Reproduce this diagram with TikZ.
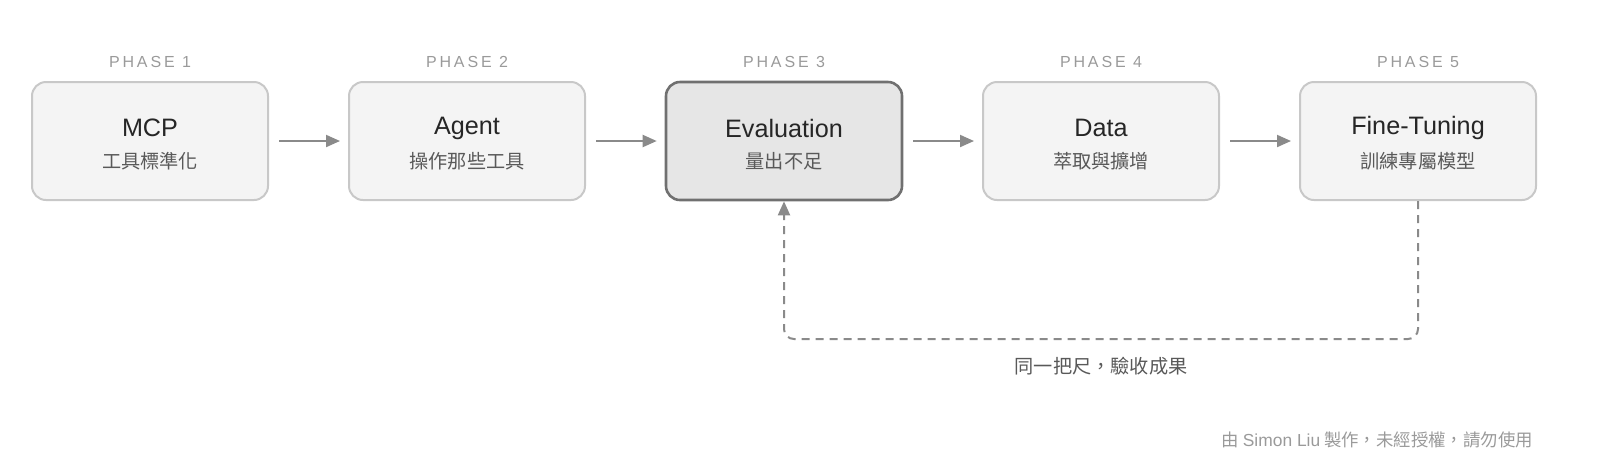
\documentclass[tikz,border=0pt]{standalone}
\usepackage{fontspec}
\setmainfont{Liberation Sans}
\newfontfamily\cjk{Noto Sans CJK TC}
\usetikzlibrary{arrows.meta}
\definecolor{boxfill}{HTML}{F4F4F4}
\definecolor{boxline}{HTML}{C8C8C8}
\definecolor{hotfill}{HTML}{E6E6E6}
\definecolor{hotline}{HTML}{707070}
\definecolor{arrowgray}{HTML}{8A8A8A}
\definecolor{labelgray}{HTML}{9A9A9A}

\begin{document}
\begin{tikzpicture}[x=0.5pt, y=-0.5pt,
    phase/.style ={rectangle, rounded corners=7pt, draw=boxline, fill=boxfill, line width=1pt, minimum width=118pt, minimum height=59pt},
    current/.style ={phase, draw=hotline, fill=hotfill, line width=1.3pt},
    title/.style ={font=\fontsize{12.6}{14}\selectfont, text=black!85},
    sub/.style ={font=\cjk\fontsize{9.6}{11}\selectfont, text=black!65},
    phasetag/.style ={font=\fontsize{8}{9}\selectfont\addfontfeature{LetterSpace=18}, text=labelgray},
    flow/.style ={draw=arrowgray, line width=1pt, -{Triangle[length=7pt, width=6pt]}}]
   \useasboundingbox (0,0) rectangle (1600,473);
   \node[phase] (P1) at (150,141) {};
   \node[phase] (P2) at (467,141) {};
   \node[current] (P3) at (784,141) {};
   \node[phase] (P4) at (1101,141) {};
   \node[phase] (P5) at (1418,141) {};

   \node[phasetag] at (150,62) {PHASE 1};
   \node[phasetag] at (467,62) {PHASE 2};
   \node[phasetag] at (784,62) {PHASE 3};
   \node[phasetag] at (1101,62) {PHASE 4};
   \node[phasetag] at (1418,62) {PHASE 5};

   \node[title] at (150,128) {MCP};
   \node[title] at (467,128) {Agent};
   \node[title] at (784,128) {Evaluation};
   \node[title] at (1101,128) {Data};
   \node[title] at (1418,128) {Fine-Tuning};

   \node[sub] at (150,161) {工具標準化};
   \node[sub] at (467,161) {操作那些工具};
   \node[sub] at (784,161) {量出不足};
   \node[sub] at (1101,161) {萃取與擴增};
   \node[sub] at (1418,161) {訓練專屬模型};

   \draw[flow] ([xshift=5pt]P1.east) to ([xshift=-4pt]P2.west);
   \draw[flow] ([xshift=5pt]P2.east) to ([xshift=-4pt]P3.west);
   \draw[flow] ([xshift=5pt]P3.east) to ([xshift=-4pt]P4.west);
   \draw[flow] ([xshift=5pt]P4.east) to ([xshift=-4pt]P5.west);

   \draw[flow, dashed, dash pattern=on 4pt off 3pt, rounded corners=5pt]
      (P5.south) -- ++(0,138) -| (P3.south);
   \node[sub] (loop) at (1101,366) {同一把尺，驗收成果};

   \node[phasetag, font=\cjk\fontsize{8.7}{10}\selectfont, anchor=east] (credit) at (1540,440) {由 {\rmfamily Simon Liu} 製作，未經授權，請勿使用};
\end{tikzpicture}
\end{document}
